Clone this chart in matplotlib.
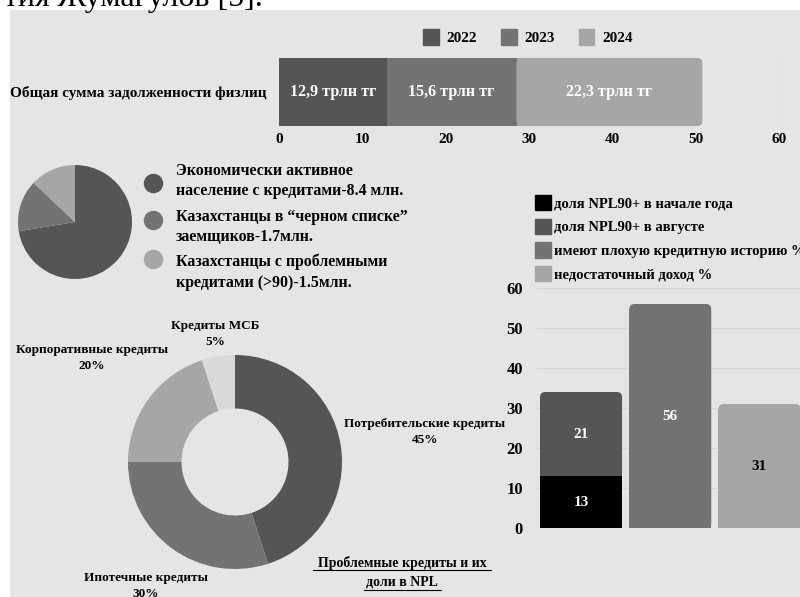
import matplotlib
matplotlib.use('Agg')
import matplotlib.pyplot as plt
from matplotlib.patches import Patch, Rectangle, FancyBboxPatch
import numpy as np

# top stacked bar: total household debt, trillion tenge
debt_years = ['2022', '2023', '2024']
debt_values = [12.9, 15.6, 22.3]
debt_label = 'Общая сумма задолженности физлиц'

# small pie: population with credits, mln
pop_labels = ['Экономически активное\nнаселение с кредитами-8.4 млн.',
              'Казахстанцы в “черном списке”\nзаемщиков-1.7млн.',
              'Казахстанцы с проблемными\nкредитами (>90)-1.5млн.']
pop_values = [8.4, 1.7, 1.5]

# donut: structure of problem loans
loan_types = ['Потребительские кредиты', 'Ипотечные кредиты', 'Корпоративные кредиты', 'Кредиты МСБ']
loan_shares = [45, 30, 20, 5]

# right bars
npl_start = [13, 0, 0]
npl_august = [21, 0, 0]
bad_history = [0, 56, 0]
low_income = [0, 0, 31]
npl_legend = ['доля NPL90+ в начале года', 'доля NPL90+ в августе',
              'имеют плохую кредитную историю %', 'недостаточный доход %']

SERIF = 'Liberation Serif'
BG = '#e5e5e5'
C_BLACK, C_DARK, C_MID, C_LIGHT, C_PALE = '#000000', '#555555', '#737373', '#a6a6a6', '#d9d9d9'
W, H = 800, 597

plt.rcParams['font.family'] = SERIF
plt.rcParams['font.weight'] = 'bold'

fig = plt.figure(figsize=(W / 100, H / 100), dpi=100)

def px(x0, y0, x1, y1):
    # pixel box (top-left origin) -> figure fraction rect
    return [x0 / W, 1 - y1 / H, (x1 - x0) / W, (y1 - y0) / H]

def round_end(ax, rect, r, aspect, horizontal=False):
    # replace a bar rectangle by one with rounded far corners
    x, y, w, h = rect.get_x(), rect.get_y(), rect.get_width(), rect.get_height()
    if w == 0 or h == 0:
        return
    c = rect.get_facecolor()
    ax.add_patch(FancyBboxPatch((x, y), w, h, boxstyle=f'round,pad=0,rounding_size={r}',
                                mutation_aspect=aspect, fc=c, lw=0, zorder=2))
    if horizontal:
        ax.add_patch(Rectangle((x, y), w - r, h, fc=c, lw=0, zorder=2))
    else:
        ax.add_patch(Rectangle((x, y), w, h - r * aspect, fc=c, lw=0, zorder=2))
    rect.set_visible(False)

# background / annotation layer in pixel coords
bg = fig.add_axes([0, 0, 1, 1])
bg.set_xlim(0, W)
bg.set_ylim(H, 0)
bg.axis('off')
bg.add_patch(Rectangle((10, 10), W, H, color=BG, lw=0))
bg.text(4, 6, 'тия Жумагулов [5].', fontsize=23, fontweight='normal', va='baseline', ha='left')

# --- top stacked bar ---
ax1 = fig.add_axes(px(279, 58, 779, 126))
ax1.set_facecolor('none')
left = 0
for i, (yr, v, c) in enumerate(zip(debt_years, debt_values, [C_DARK, C_MID, C_LIGHT])):
    bars = ax1.barh([0], [v], left=left, height=1.0, color=c, label=yr, zorder=2)
    if i == len(debt_values) - 1:
        round_end(ax1, bars[0], 0.6, (500 / 60) / 68, horizontal=True)
    ax1.text(left + v / 2, 0, f'{v:.1f}'.replace('.', ',') + ' трлн тг', color='white',
             ha='center', va='center', fontsize=11.5, zorder=3)
    left += v
ax1.set_xlim(0, 60)
ax1.set_ylim(-0.5, 0.5)
ax1.set_xticks(np.arange(0, 61, 10))
ax1.set_yticks([0])
ax1.set_yticklabels([debt_label], fontsize=9.6)
ax1.tick_params(length=0, labelsize=11, pad=5)
ax1.tick_params(axis='y', pad=9)
ax1.grid(axis='x', color='#cfcfcf', lw=1, zorder=0)
for s in ax1.spines.values():
    s.set_visible(False)
fig.legend(handles=[Patch(color=c, label=y) for y, c in zip(debt_years, [C_DARK, C_MID, C_LIGHT])],
           loc='center', bbox_to_anchor=(528 / W, 1 - 37 / H), ncol=3, frameon=False,
           fontsize=11, handlelength=1.0, handleheight=1.2, columnspacing=1.6, handletextpad=0.5)

# --- small pie ---
ax2 = fig.add_axes(px(18, 165, 132, 279))
ax2.pie(pop_values, colors=[C_DARK, C_MID, C_LIGHT], startangle=90, counterclock=False,
        wedgeprops=dict(lw=0))
ax2.set_xlim(-1, 1)
ax2.set_ylim(-1, 1)
for yy, lab, c in zip([183, 220, 259], pop_labels, [C_DARK, C_MID, C_LIGHT]):
    bg.plot(153, yy, 'o', ms=13, color=c)
for yy, lab in zip([181, 227, 272], pop_labels):
    bg.text(176, yy, lab, fontsize=11.4, va='center', ha='left', linespacing=1.4)

# --- donut ---
ax3 = fig.add_axes(px(128, 355, 342, 569))
ax3.pie(loan_shares, colors=[C_DARK, C_MID, C_LIGHT, C_PALE], startangle=90, counterclock=False,
        wedgeprops=dict(width=0.5, lw=0))
ax3.set_xlim(-1, 1)
ax3.set_ylim(-1, 1)
donut_pos = [(425, 432), (146, 586), (92, 358), (215, 334)]
for (x, y), name, v in zip(donut_pos, loan_types, loan_shares):
    bg.text(x, y, f'{name}\n{v}%', fontsize=9.5, ha='center', va='center', linespacing=1.5)
bg.text(402, 572, 'Проблемные кредиты и их\nдоли в NPL', fontsize=10, ha='center', va='center',
        linespacing=1.55)
bg.plot([313, 491], [570, 570], color='black', lw=0.8)
bg.plot([364, 441], [590, 590], color='black', lw=0.8)

# --- right bars ---
ax4 = fig.add_axes(px(537, 288, 804, 528))
ax4.set_facecolor('none')
xs = np.arange(3)
b1 = ax4.bar(xs, npl_start, width=0.92, color=C_BLACK, zorder=2)
b2 = ax4.bar(xs, npl_august, bottom=npl_start, width=0.92, color=C_DARK, zorder=2)
b3 = ax4.bar(xs, bad_history, width=0.92, color=C_MID, zorder=2)
b4 = ax4.bar(xs, low_income, width=0.92, color=C_LIGHT, zorder=2)
ax4.bar_label(b1, labels=[str(v) if v else '' for v in npl_start], label_type='center', color='white', fontsize=11, zorder=4)
ax4.bar_label(b2, labels=[str(v) if v else '' for v in npl_august], label_type='center', color='white', fontsize=11, zorder=4)
ax4.bar_label(b3, labels=[str(v) if v else '' for v in bad_history], label_type='center', color='white', fontsize=11, zorder=4)
ax4.bar_label(b4, labels=[str(v) if v else '' for v in low_income], label_type='center', color='black', fontsize=11, zorder=4)
ax4.set_xlim(-0.494, 2.5)
ax4.set_ylim(0, 60)
# px per unit: x 89, y 4
for cont in (b2, b3, b4):
    for rect in cont:
        round_end(ax4, rect, 0.06, 89 / 4)
ax4.set_yticks(np.arange(0, 61, 10))
ax4.set_xticks([])
ax4.tick_params(length=0, labelsize=12, pad=10)
ax4.grid(axis='y', color='#d6d6d6', lw=0.8, zorder=0)
for s in ax4.spines.values():
    s.set_visible(False)
ax4.legend(handles=[Patch(color=c, label=l) for l, c in zip(npl_legend, [C_BLACK, C_DARK, C_MID, C_LIGHT])],
           loc='upper left', bbox_to_anchor=(535 / W, 1 - 195 / H), bbox_transform=fig.transFigure,
           frameon=False, fontsize=10.5, handlelength=1.1, handleheight=1.25, labelspacing=0.55,
           handletextpad=0.2, borderpad=0, borderaxespad=0)

fig.savefig('out.png', dpi=100)
